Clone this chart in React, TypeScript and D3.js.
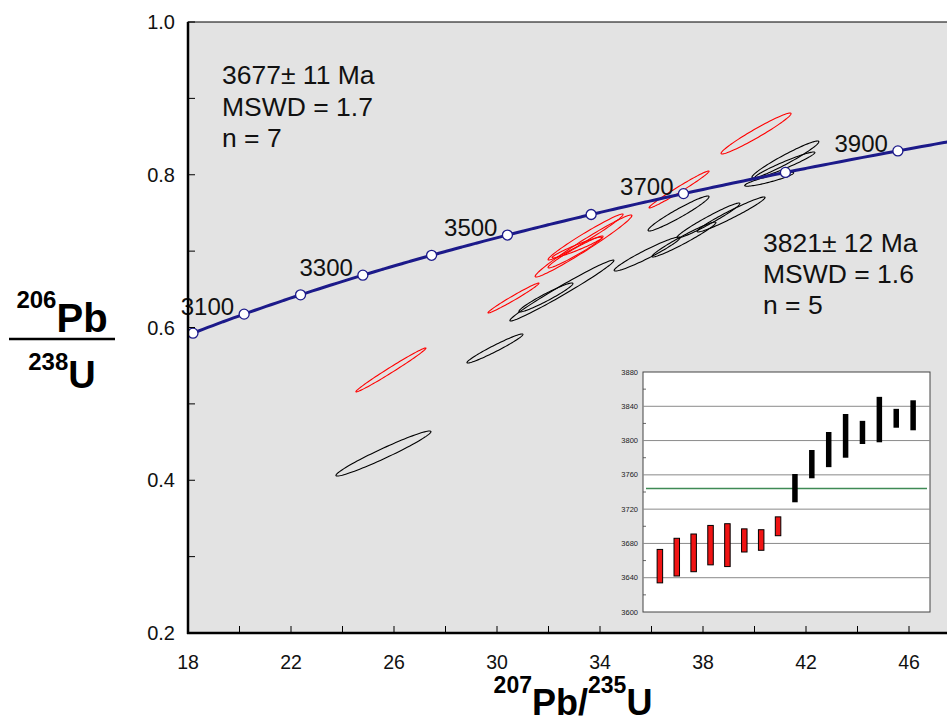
import React from "react";
import * as d3 from "d3";

// concordia diagram: 207Pb/235U vs 206Pb/238U
const xTicks = [18, 22, 26, 30, 34, 38, 42, 46];
const xMinorTicks = [20, 24, 28, 32, 36, 40, 44];
const yTicks = [0.2, 0.4, 0.6, 0.8, 1.0];
const yMinorTicks = [0.3, 0.5, 0.7, 0.9];

// ages (Ma) marked on the concordia, and the ones that get a label
const concordiaAges = [3000, 3100, 3200, 3300, 3400, 3500, 3600, 3700, 3800, 3900];
const labelledAges = [3100, 3300, 3500, 3700, 3900];

// decay constants (1/Ma)
const lambda238 = 1.55125e-4;
const lambda235 = 9.8485e-4;

// analyses: [207Pb/235U, 206Pb/238U, sigma 207/235, sigma 206/238, rho]
const redEllipses = [
  [25.88, 0.5444, 1.36, 0.0288, 0.99],
  [30.64, 0.6386, 0.99, 0.0196, 0.985],
  [33.36, 0.7067, 1.88, 0.0406, 0.98],
  [33.44, 0.7185, 1.456, 0.0301, 0.98],
  [33.05, 0.6989, 1.068, 0.0209, 0.97],
  [33.11, 0.7047, 0.971, 0.0137, 0.96],
  [37.07, 0.7807, 1.165, 0.0242, 0.985],
  [40.06, 0.854, 1.359, 0.0268, 0.97],
];
const blackEllipses = [
  [25.59, 0.435, 1.845, 0.0295, 0.97],
  [29.92, 0.5725, 1.087, 0.019, 0.97],
  [32.52, 0.6484, 2.02, 0.0399, 0.985],
  [31.9, 0.6393, 1.049, 0.019, 0.96],
  [35.83, 0.6962, 1.28, 0.0223, 0.96],
  [37.05, 0.7493, 1.184, 0.0229, 0.96],
  [37.26, 0.7152, 1.243, 0.0229, 0.97],
  [38.21, 0.7401, 1.223, 0.0229, 0.97],
  [39.09, 0.748, 1.32, 0.0229, 0.97],
  [41.2, 0.82, 1.3, 0.0242, 0.96],
  [41.18, 0.8128, 1.165, 0.017, 0.96],
  [40.57, 0.7942, 0.951, 0.0092, 0.9],
];

// inset: 207Pb/206Pb ages with error bars (Ma)
const redAges = [
  [3634, 3673],
  [3642, 3686],
  [3647, 3691],
  [3655, 3701],
  [3653, 3703],
  [3670, 3697],
  [3672, 3696],
  [3689, 3711],
];
const blackAges = [
  [3728, 3761],
  [3756, 3789],
  [3769, 3810],
  [3780, 3831],
  [3796, 3823],
  [3798, 3851],
  [3815, 3837],
  [3812, 3847],
];
const insetTicks = [3600, 3640, 3680, 3720, 3760, 3800, 3840, 3880];
const insetMinor = [3620, 3660, 3700, 3740, 3780, 3820, 3860];
const meanAge = 3744;

const leftNotes = ["3677\u00b1 11 Ma", "MSWD = 1.7", "n = 7"];
const rightNotes = ["3821\u00b1 12 Ma", "MSWD = 1.6", "n = 5"];

const W = 947;
const H = 726;
const left = 188;
const top = 22;
const bottom = 633;

const font = "'Liberation Sans', Arial, sans-serif";

export default function App() {
  const x = d3.scaleLinear().domain([18, 46]).range([left, 909]);
  const y = d3.scaleLinear().domain([0.2, 1.0]).range([bottom, top]);

  const conc = (t: number) => [Math.exp(lambda235 * t) - 1, Math.exp(lambda238 * t) - 1];
  const curveAges = d3.range(2950, 4010, 10);
  const concLine = d3
    .line<number>()
    .x((t) => x(conc(t)[0]))
    .y((t) => y(conc(t)[1]))
    .curve(d3.curveMonotoneX);

  const ellipsePath = (e: number[]) => {
    const [cx, cy, sx, sy, rho] = e;
    const k = Math.sqrt(1 - rho * rho);
    const pts = d3.range(0, 96).map((i) => {
      const t = (i / 96) * Math.PI * 2;
      return [cx + sx * Math.cos(t), cy + sy * (rho * Math.cos(t) + k * Math.sin(t))];
    });
    return d3
      .line<number[]>()
      .x((p) => x(p[0]))
      .y((p) => y(p[1]))
      .curve(d3.curveLinearClosed)(pts) as string;
  };

  // inset
  const iy = d3.scaleLinear().domain([3600, 3880]).range([612, 372]);
  const allAges = [...redAges, ...blackAges];
  const ix = d3
    .scalePoint<number>()
    .domain(allAges.map((_, i) => i))
    .range([643, 930])
    .padding(1);
  const barW = 5.5;

  return (
    <svg
      width={W}
      height={H}
      style={{ position: "absolute", left: 0, top: 0, background: "#fff" }}
      fontFamily={font}
    >
      <defs>
        <clipPath id="plot">
          <rect x={left} y={top} width={W - left + 20} height={bottom - top} />
        </clipPath>
      </defs>

      <rect x={left} y={top} width={W - left + 20} height={bottom - top} fill="#e3e3e3" stroke="#000" strokeWidth={1} />

      {/* ellipses */}
      <g clipPath="url(#plot)" fill="none" strokeWidth={1.1}>
        {blackEllipses.map((e, i) => (
          <path key={"b" + i} d={ellipsePath(e)} stroke="#000" />
        ))}
        {redEllipses.map((e, i) => (
          <path key={"r" + i} d={ellipsePath(e)} stroke="#f00" />
        ))}
      </g>

      {/* concordia */}
      <g clipPath="url(#plot)">
        <path d={concLine(curveAges) as string} fill="none" stroke="#1c1a8a" strokeWidth={3} />
        {concordiaAges.map((t) => (
          <circle key={t} cx={x(conc(t)[0])} cy={y(conc(t)[1])} r={5} fill="#fff" stroke="#1c1a8a" strokeWidth={1.3} />
        ))}
      </g>
      {labelledAges.map((t) => (
        <text key={t} x={x(conc(t)[0]) - 10} y={y(conc(t)[1]) + 1} fontSize={24} textAnchor="end" fill="#111">
          {t}
        </text>
      ))}

      {/* axes */}
      <line x1={left} x2={left} y1={top} y2={bottom + 1} stroke="#000" strokeWidth={2.5} />
      <line x1={left - 1} x2={W} y1={bottom} y2={bottom} stroke="#000" strokeWidth={2.5} />
      {xTicks.concat(xMinorTicks).map((v) => (
        <line key={"xt" + v} x1={x(v)} x2={x(v)} y1={bottom} y2={bottom - 7} stroke="#000" strokeWidth={1} />
      ))}
      {xTicks.map((v) => (
        <text key={"xl" + v} x={x(v)} y={669} fontSize={19.5} textAnchor="middle" fill="#111">
          {v}
        </text>
      ))}
      {yTicks.concat(yMinorTicks).map((v) => (
        <line key={"yt" + v} x1={left} x2={left + 7} y1={y(v)} y2={y(v)} stroke="#000" strokeWidth={1} />
      ))}
      {yTicks.map((v) => (
        <text key={"yl" + v} x={175} y={y(v) + 7} fontSize={20} textAnchor="end" fill="#111">
          {v.toFixed(1)}
        </text>
      ))}

      {/* notes */}
      {leftNotes.map((s, i) => (
        <text key={"ln" + i} x={222} y={84 + i * 31.5} fontSize={26.5} fill="#111">
          {s}
        </text>
      ))}
      {rightNotes.map((s, i) => (
        <text key={"rn" + i} x={763} y={252 + i * 31} fontSize={26.5} fill="#111">
          {s}
        </text>
      ))}

      {/* inset chart */}
      <g>
        <rect x={643} y={372} width={287} height={240} fill="#fff" stroke="#444" strokeWidth={1} />
        {insetTicks.slice(1, -1).map((v) => (
          <line key={"ig" + v} x1={643} x2={930} y1={iy(v)} y2={iy(v)} stroke="#8a8a8a" strokeWidth={1} />
        ))}
        {insetMinor.map((v) => (
          <line key={"im" + v} x1={643} x2={646} y1={iy(v)} y2={iy(v)} stroke="#444" strokeWidth={0.8} />
        ))}
        {insetTicks.map((v) => (
          <text key={"il" + v} x={638} y={iy(v) + 2.5} fontSize={7.5} textAnchor="end" fill="#222">
            {v}
          </text>
        ))}
        <line x1={646} x2={927} y1={iy(meanAge)} y2={iy(meanAge)} stroke="#3f8a55" strokeWidth={1.5} />
        {redAges.map((a, i) => (
          <rect
            key={"ra" + i}
            x={(ix(i) as number) - barW / 2}
            y={iy(a[1])}
            width={barW}
            height={iy(a[0]) - iy(a[1])}
            fill="#f01414"
            stroke="#000"
            strokeWidth={1}
          />
        ))}
        {blackAges.map((a, i) => (
          <rect
            key={"ba" + i}
            x={(ix(i + redAges.length) as number) - barW / 2}
            y={iy(a[1])}
            width={barW}
            height={iy(a[0]) - iy(a[1])}
            fill="#000"
          />
        ))}
      </g>

      {/* axis titles */}
      <text x={62} y={332} textAnchor="middle" fontWeight="bold" fill="#000">
        <tspan fontSize={24} dy={-24}>206</tspan>
        <tspan fontSize={40} dy={24}>Pb</tspan>
      </text>
      <line x1={9} x2={115} y1={339} y2={339} stroke="#000" strokeWidth={2.5} />
      <text x={62} y={388} textAnchor="middle" fontWeight="bold" fill="#000">
        <tspan fontSize={24} dy={-18}>238</tspan>
        <tspan fontSize={38} dy={18}>U</tspan>
      </text>
      <text x={573} y={715} textAnchor="middle" fontWeight="bold" fill="#000">
        <tspan fontSize={23} dy={-22}>207</tspan>
        <tspan fontSize={36} dy={22}>Pb/</tspan>
        <tspan fontSize={23} dy={-22}>235</tspan>
        <tspan fontSize={36} dy={22}>U</tspan>
      </text>
    </svg>
  );
}
